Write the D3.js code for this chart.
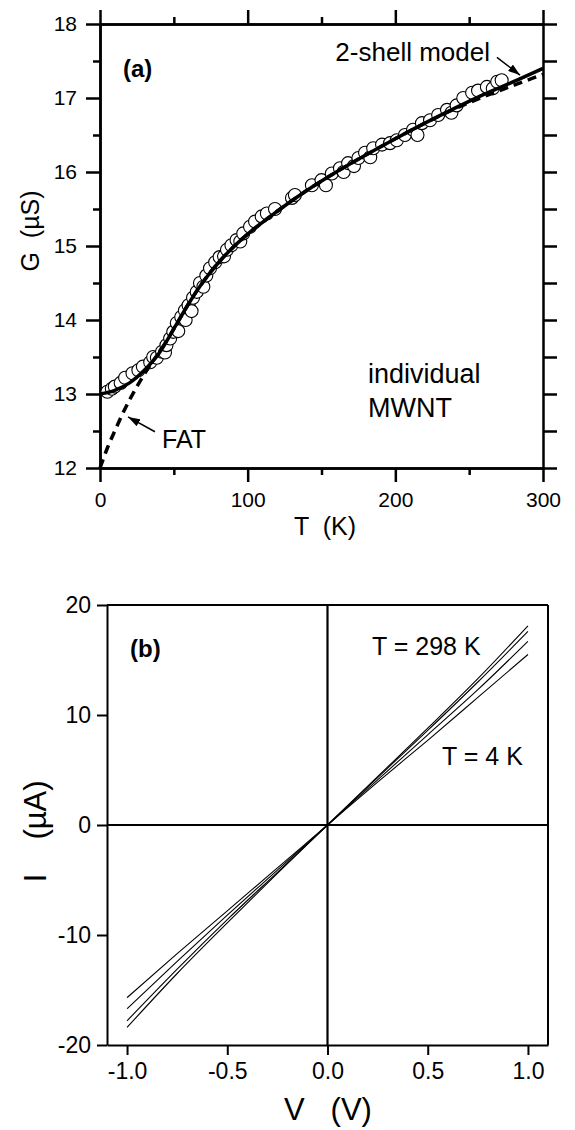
<!DOCTYPE html>
<html>
<head>
<meta charset="utf-8">
<script src="https://cdn.jsdelivr.net/npm/d3@7"></script>
<style>
  html, body { margin: 0; padding: 0; background: #fff; }
  svg { display: block; }
  text { font-family: "Liberation Sans", Arial, Helvetica, sans-serif; fill: #000; white-space: pre; }
</style>
</head>
<body>
<svg id="chart" width="575" height="1130"></svg>
<script>
// ---------- Panel (a): G vs T ----------
const tData = [5, 8, 10, 14, 17, 22, 26, 29, 34, 36, 38.5, 42, 44, 45, 47.5, 49.6, 52, 53, 55, 57.5, 58, 60, 62, 63, 65.5, 67.7, 70, 72, 74.5, 78, 81, 84, 86, 89, 92.5, 95, 97, 101.6, 105, 109.5, 113, 118.5, 130, 132, 143.5, 150, 153, 157, 162.5, 165, 168, 172, 175, 179.5, 183, 185, 191, 196.4, 201, 206.5, 212, 215, 218, 223.5, 229, 235, 238, 241.5, 246, 252, 256, 262, 266, 269, 272];
const gData = [13.03, 13.07, 13.10, 13.15, 13.22, 13.28, 13.32, 13.37, 13.43, 13.50, 13.49, 13.57, 13.56, 13.66, 13.75, 13.84, 13.96, 13.85, 14.04, 14.13, 14.00, 14.20, 14.12, 14.30, 14.38, 14.50, 14.45, 14.60, 14.70, 14.78, 14.85, 14.86, 14.95, 15.01, 15.08, 15.06, 15.17, 15.26, 15.33, 15.40, 15.44, 15.50, 15.65, 15.69, 15.82, 15.89, 15.82, 15.98, 16.05, 16.00, 16.12, 16.08, 16.19, 16.26, 16.20, 16.32, 16.37, 16.39, 16.43, 16.50, 16.57, 16.50, 16.66, 16.70, 16.77, 16.84, 16.80, 16.90, 17.00, 17.07, 17.10, 17.15, 17.13, 17.22, 17.24];

const tModel = [0, 10, 20, 30, 40, 50, 60, 70, 80, 90, 100, 120, 140, 160, 180, 200, 220, 240, 260, 280, 300];
const gModel = [13.00, 13.05, 13.15, 13.32, 13.55, 13.88, 14.22, 14.52, 14.77, 14.98, 15.16, 15.47, 15.75, 16.00, 16.23, 16.45, 16.66, 16.86, 17.05, 17.22, 17.40];

const tFat = [0, 5, 10, 15, 20, 25, 30, 35, 40, 50, 60, 70, 80, 90, 100, 120, 140, 160, 180, 200, 220, 240, 260, 280, 300];
const gFat = [12.00, 12.27, 12.50, 12.72, 12.92, 13.10, 13.27, 13.42, 13.56, 13.88, 14.22, 14.52, 14.77, 14.98, 15.16, 15.47, 15.75, 16.00, 16.23, 16.45, 16.66, 16.85, 17.02, 17.17, 17.32];

const tTicksA = [0, 100, 200, 300];
const tMinorA = [50, 150, 250];
const gTicksA = [12, 13, 14, 15, 16, 17, 18];
const gMinorA = [12.5, 13.5, 14.5, 15.5, 16.5, 17.5];

// ---------- Panel (b): I vs V ----------
const vData = [-1, -0.75, -0.5, -0.25, 0, 0.25, 0.5, 0.75, 1];
const iCurve1 = [-18.4, -13.5, -8.9, -4.4, 0, 4.4, 8.8, 13.3, 18.1];
const iCurve2 = [-17.8, -13.1, -8.6, -4.3, 0, 4.3, 8.6, 13.0, 17.6];
const iCurve3 = [-16.7, -12.4, -8.2, -4.1, 0, 4.1, 8.2, 12.3, 16.7];
const iCurve4 = [-15.7, -11.7, -7.8, -3.9, 0, 3.9, 7.7, 11.6, 15.5];
const vTicksB = [-1.0, -0.5, 0.0, 0.5, 1.0];
const iTicksB = [-20, -10, 0, 10, 20];

const FONT = '"Liberation Sans", Arial, Helvetica, sans-serif';
const svg = d3.select("#chart");

// arrow marker
const defs = svg.append("defs");
defs.append("marker")
  .attr("id", "arrow")
  .attr("markerUnits", "userSpaceOnUse")
  .attr("viewBox", "0 0 12 8")
  .attr("refX", 12).attr("refY", 4)
  .attr("markerWidth", 12).attr("markerHeight", 8)
  .attr("orient", "auto")
  .append("path").attr("d", "M0,0 L12,4 L0,8 Z").attr("fill", "#000");

// ===== Panel (a) =====
const xA = d3.scaleLinear().domain([0, 300]).range([100, 543]);
const yA = d3.scaleLinear().domain([12, 18]).range([468, 24]);
const gA = svg.append("g");

function styleAxis(sel, w) {
  sel.select(".domain").attr("stroke", "#000").attr("stroke-width", w);
  sel.selectAll(".tick line").attr("stroke", "#000").attr("stroke-width", w);
  sel.selectAll("text").attr("font-family", FONT).attr("fill", "#000");
}

// minor ticks first
gA.append("g").attr("transform", `translate(0,${yA(12)})`)
  .call(d3.axisBottom(xA).tickValues(tMinorA).tickSize(7).tickFormat("").tickSizeOuter(0))
  .call(s => styleAxis(s, 2.5));
gA.append("g").attr("transform", `translate(0,${yA(18)})`)
  .call(d3.axisTop(xA).tickValues(tMinorA).tickSize(7).tickFormat("").tickSizeOuter(0))
  .call(s => styleAxis(s, 2.5));
gA.append("g").attr("transform", `translate(${xA(0)},0)`)
  .call(d3.axisLeft(yA).tickValues(gMinorA).tickSize(7).tickFormat("").tickSizeOuter(0))
  .call(s => styleAxis(s, 2.5));
gA.append("g").attr("transform", `translate(${xA(300)},0)`)
  .call(d3.axisRight(yA).tickValues(gTicksA.concat(gMinorA)).tickSize(14).tickFormat("").tickSizeOuter(0))
  .call(s => styleAxis(s, 2.5));
// majors
const axBA = gA.append("g").attr("transform", `translate(0,${yA(12)})`)
  .call(d3.axisBottom(xA).tickValues(tTicksA).tickSize(14).tickPadding(10).tickFormat(d3.format("d")).tickSizeOuter(0))
  .call(s => styleAxis(s, 2.5));
axBA.selectAll("text").attr("font-size", 21);
gA.append("g").attr("transform", `translate(0,${yA(18)})`)
  .call(d3.axisTop(xA).tickValues(tTicksA).tickSize(14).tickFormat("").tickSizeOuter(0))
  .call(s => styleAxis(s, 2.5));
const axLA = gA.append("g").attr("transform", `translate(${xA(0)},0)`)
  .call(d3.axisLeft(yA).tickValues(gTicksA).tickSize(14).tickPadding(9).tickFormat(d3.format("d")).tickSizeOuter(0))
  .call(s => styleAxis(s, 2.5));
axLA.selectAll("text").attr("font-size", 21);

// data circles
gA.append("g").selectAll("circle")
  .data(tData.map((t, i) => [t, gData[i]]))
  .join("circle")
  .attr("cx", d => xA(d[0])).attr("cy", d => yA(d[1]))
  .attr("r", 6.5)
  .attr("fill", "#fff").attr("stroke", "#000").attr("stroke-width", 1.1);

// FAT dashed
const lineA = d3.line().x(d => xA(d[0])).y(d => yA(d[1])).curve(d3.curveMonotoneX);
gA.append("path")
  .datum(tFat.map((t, i) => [t, gFat[i]]))
  .attr("d", lineA).attr("fill", "none").attr("stroke", "#000")
  .attr("stroke-width", 3.5).attr("stroke-dasharray", "9,6");
// 2-shell model solid
gA.append("path")
  .datum(tModel.map((t, i) => [t, gModel[i]]))
  .attr("d", lineA).attr("fill", "none").attr("stroke", "#000")
  .attr("stroke-width", 3.5);

// annotations
gA.append("text").attr("x", 123).attr("y", 77).attr("font-size", 24).attr("font-weight", "bold").text("(a)");
gA.append("text").attr("x", 490).attr("y", 61).attr("font-size", 26).attr("text-anchor", "end").text("2-shell model");
gA.append("line")
  .attr("x1", xA(268.8)).attr("y1", yA(17.55)).attr("x2", xA(284.4)).attr("y2", yA(17.31))
  .attr("stroke", "#000").attr("stroke-width", 1.5).attr("marker-end", "url(#arrow)");
gA.append("text").attr("x", 162).attr("y", 448).attr("font-size", 25).text("FAT");
gA.append("line")
  .attr("x1", xA(37.2)).attr("y1", yA(12.49)).attr("x2", xA(19)).attr("y2", yA(12.69))
  .attr("stroke", "#000").attr("stroke-width", 1.5).attr("marker-end", "url(#arrow)");
gA.append("text").attr("x", 368).attr("y", 383).attr("font-size", 27).text("individual");
gA.append("text").attr("x", 368).attr("y", 417).attr("font-size", 27).text("MWNT");

// axis titles
gA.append("text").attr("x", 325).attr("y", 535).attr("font-size", 25).attr("text-anchor", "middle").text("T  (K)");
gA.append("text").attr("transform", "translate(39,231) rotate(-90)").attr("font-size", 25).attr("text-anchor", "middle").text("G  (\u00B5S)");

// ===== Panel (b) =====
const xB = d3.scaleLinear().domain([-1.1, 1.1]).range([107, 548]);
const yB = d3.scaleLinear().domain([-20, 20]).range([1045, 605]);
const gB = svg.append("g");

// frame top & right
gB.append("line").attr("x1", xB(-1.1)).attr("x2", xB(1.1)).attr("y1", yB(20)).attr("y2", yB(20)).attr("stroke", "#000").attr("stroke-width", 2);
gB.append("line").attr("x1", xB(1.1)).attr("x2", xB(1.1)).attr("y1", yB(20)).attr("y2", yB(-20)).attr("stroke", "#000").attr("stroke-width", 2);
// zero lines
gB.append("line").attr("x1", xB(-1.1)).attr("x2", xB(1.1)).attr("y1", yB(0)).attr("y2", yB(0)).attr("stroke", "#000").attr("stroke-width", 2.2);
gB.append("line").attr("x1", xB(0)).attr("x2", xB(0)).attr("y1", yB(20)).attr("y2", yB(-20)).attr("stroke", "#000").attr("stroke-width", 2.2);

const axBB = gB.append("g").attr("transform", `translate(0,${yB(-20)})`)
  .call(d3.axisBottom(xB).tickValues(vTicksB).tickSize(10).tickPadding(8).tickFormat(d3.format(".1f")).tickSizeOuter(0))
  .call(s => styleAxis(s, 2));
axBB.selectAll("text").attr("font-size", 23).text(d => d3.format(".1f")(d).replace("\u2212", "-"));
const axLB = gB.append("g").attr("transform", `translate(${xB(-1.1)},0)`)
  .call(d3.axisLeft(yB).tickValues(iTicksB).tickSize(10).tickPadding(6).tickFormat(d3.format("d")).tickSizeOuter(0))
  .call(s => styleAxis(s, 2));
axLB.selectAll("text").attr("font-size", 23).text(d => String(d));

// IV curves
const lineB = d3.line().x(d => xB(d[0])).y(d => yB(d[1])).curve(d3.curveMonotoneX);
[iCurve1, iCurve2, iCurve3, iCurve4].forEach(arr => {
  gB.append("path")
    .datum(vData.map((v, i) => [v, arr[i]]))
    .attr("d", lineB).attr("fill", "none").attr("stroke", "#000").attr("stroke-width", 1.1);
});

gB.append("text").attr("x", 130).attr("y", 657).attr("font-size", 24).attr("font-weight", "bold").text("(b)");
gB.append("text").attr("x", 372).attr("y", 655).attr("font-size", 25).text("T = 298 K");
gB.append("text").attr("x", 442).attr("y", 765).attr("font-size", 25).text("T = 4 K");

// axis titles
gB.append("text").attr("x", 328).attr("y", 1120).attr("font-size", 31).attr("text-anchor", "middle").text("V   (V)");
gB.append("text").attr("transform", "translate(46,878) rotate(-90)").attr("font-size", 31).attr("text-anchor", "middle").text("I");
gB.append("text").attr("transform", "translate(46,810) rotate(-90)").attr("font-size", 31).attr("text-anchor", "middle").text("(\u00B5A)");
</script>
</body>
</html>
